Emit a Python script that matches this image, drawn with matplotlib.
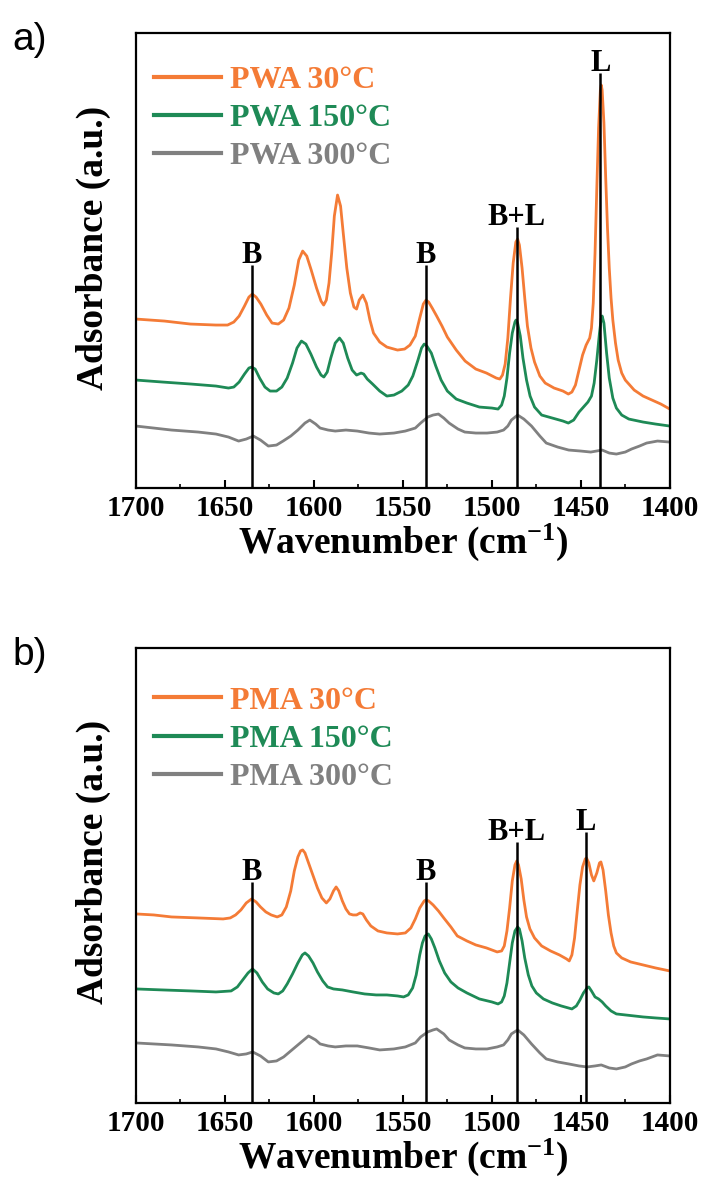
import matplotlib
matplotlib.use("Agg")
import matplotlib.pyplot as plt
from matplotlib.ticker import MultipleLocator

plt.rcParams['font.family'] = ['Liberation Serif', 'DejaVu Serif']
plt.rcParams['font.weight'] = 'bold'
plt.rcParams['mathtext.fontset'] = 'custom'
plt.rcParams['mathtext.rm'] = 'Liberation Serif:bold'
plt.rcParams['mathtext.bf'] = 'Liberation Serif:bold'
plt.rcParams['mathtext.default'] = 'rm'

# ---- panel a: PWA (absorbance in arbitrary units) ----
wn_pwa_30 = [1700, 1684, 1669.4, 1655, 1648.5, 1645, 1642, 1639, 1636.5, 1634.6, 1632.5, 1629.8,
             1626.5, 1623.5, 1620, 1617, 1614, 1611, 1608.5, 1606.3, 1604, 1601.5, 1598.5, 1596,
             1594.5, 1593, 1591.5, 1590, 1588.5, 1586.7, 1585, 1583.5, 1581.5, 1579.5, 1577.5, 1576,
             1574.5, 1572.5, 1570.5, 1568.5, 1566.5, 1563, 1559, 1553, 1549, 1546, 1543, 1540.5,
             1538.5, 1537, 1535.5, 1533.5, 1531, 1528, 1525, 1520, 1515, 1509, 1503, 1497.5,
             1495.5, 1494, 1492.5, 1491, 1489.5, 1488, 1486.5, 1485.5, 1484.5, 1483, 1481.5, 1480,
             1478, 1476, 1473, 1470, 1465, 1460, 1457, 1455, 1453, 1451, 1449, 1447,
             1445, 1444, 1443, 1442, 1441, 1440, 1439, 1438.5, 1438, 1437, 1436, 1435,
             1434, 1433, 1432, 1430.5, 1429, 1427, 1425, 1420, 1415, 1410, 1405, 1400]
ab_pwa_30 = [169, 167, 164, 163, 163, 166, 172, 182, 191, 194, 191, 184,
             173, 165, 164, 168, 180, 203, 228, 237, 232, 218, 200, 187,
             183, 188, 205, 235, 272, 293, 282, 255, 220, 195, 181, 179,
             188, 193, 185, 168, 155, 146, 141, 138, 139, 143, 152, 170,
             184, 188, 186, 180, 172, 162, 151, 138, 127, 119, 115, 110,
             109, 113, 124, 150, 190, 225, 246, 249, 243, 220, 190, 162,
             140, 126, 112, 105, 100, 97, 94, 96, 103, 118, 133, 143,
             150, 160, 185, 235, 300, 360, 398, 403, 398, 365, 310, 260,
             220, 190, 168, 145, 128, 115, 108, 98, 92, 88, 84, 79]

wn_pwa_150 = [1700, 1685, 1669, 1655, 1648, 1645, 1642, 1639, 1636.5, 1635, 1633, 1630.5,
              1627.5, 1624.6, 1621, 1618, 1615, 1612, 1609.5, 1607, 1604.5, 1601.7, 1598.5, 1596,
              1594.4, 1592.5, 1590.5, 1588, 1585.6, 1583.5, 1581, 1578.5, 1576, 1573.5, 1572, 1570,
              1567, 1563, 1559, 1555, 1550.6, 1547, 1544.4, 1541.5, 1539.5, 1538, 1536.5, 1534,
              1531.5, 1528.5, 1525, 1520, 1514, 1507, 1500, 1496.5, 1494.5, 1493, 1491.5, 1490,
              1488.5, 1487, 1486.4, 1485.5, 1484, 1482.5, 1480.5, 1478.5, 1476, 1472, 1466, 1460,
              1457, 1454, 1451, 1448, 1446, 1444, 1442.5, 1441, 1439.5, 1438.5, 1438, 1437,
              1435.5, 1434, 1432, 1430, 1427, 1423, 1415, 1408, 1400]
ab_pwa_150 = [108, 106, 104, 102, 100, 101, 106, 114, 120, 121, 119, 110,
              101, 97, 97, 101, 110, 125, 140, 147, 144, 134, 121, 113,
              111, 116, 130, 145, 150, 145, 130, 118, 113, 115, 114, 109,
              104, 97, 92, 93, 97, 103, 112, 128, 140, 144, 142, 135,
              122, 108, 97, 89, 85, 81, 80, 79, 83, 92, 110, 135,
              155, 166, 168, 165, 152, 130, 108, 92, 81, 73, 70, 67,
              65, 68, 76, 82, 86, 92, 105, 128, 155, 170, 172, 165,
              135, 110, 90, 80, 73, 69, 66, 64, 62]

wn_pwa_300 = [1700, 1680, 1665, 1655, 1648, 1642.3, 1638, 1634, 1630, 1625.6, 1621, 1617.3,
              1613, 1609, 1605, 1602.3, 1599, 1596.5, 1592, 1588, 1582, 1575.6, 1569, 1563,
              1555, 1548.6, 1543, 1540, 1536, 1533, 1530, 1527, 1524, 1519, 1515.2, 1509,
              1502.7, 1497, 1493.4, 1491, 1489, 1485.5, 1482, 1477.7, 1473, 1469.4, 1463, 1456.8,
              1450, 1444.4, 1438, 1434, 1430, 1425, 1421.5, 1417, 1413, 1406.9, 1400]
ab_pwa_300 = [62, 58, 56, 54, 51, 47, 49, 52, 48, 42, 43, 47,
              52, 58, 65, 68, 64, 60, 58, 57, 58, 57, 55, 54,
              55, 57, 60, 65, 71, 73, 74, 70, 65, 59, 56, 55,
              55, 56, 58, 62, 68, 73, 69, 62, 52, 45, 41, 38,
              37, 36, 38, 35, 34, 36, 39, 42, 45, 47, 46]

# ---- panel b: PMA ----
wn_pma_30 = [1700, 1690, 1680, 1665, 1651, 1647, 1644, 1641, 1638, 1635, 1632.5, 1630,
             1627, 1624, 1620.6, 1618, 1615.5, 1613, 1611, 1609, 1607.5, 1606.3, 1605, 1603,
             1600.6, 1598, 1595.5, 1593, 1591, 1589, 1587.5, 1586, 1584, 1582, 1580, 1578,
             1576, 1574, 1572.5, 1570.5, 1568, 1564, 1559, 1553, 1548.6, 1545.5, 1543, 1540.5,
             1538, 1537, 1535.5, 1533, 1530, 1527, 1523, 1519.4, 1514, 1509, 1503, 1497,
             1494.5, 1493, 1491.5, 1490, 1488.5, 1487, 1486, 1485, 1483.5, 1482, 1480.5, 1478.6,
             1476, 1472, 1467, 1462, 1458, 1456.5, 1455, 1453.5, 1452, 1450.5, 1449, 1447.5,
             1446.8, 1445.5, 1444, 1442.7, 1441, 1439.5, 1438.7, 1437.5, 1436, 1434.5, 1433, 1431.5,
             1430, 1427, 1422, 1415, 1408, 1400]
ab_pma_30 = [189, 188, 186, 185, 184, 185, 188, 193, 200, 204, 201, 196,
             191, 188, 186, 188, 196, 212, 232, 246, 252, 253, 250, 240,
             228, 215, 205, 200, 204, 212, 216, 212, 202, 194, 189, 188,
             188, 190, 189, 183, 177, 172, 170, 169, 170, 175, 184, 195,
             202, 203, 202, 198, 192, 185, 176, 167, 162, 158, 155, 151,
             152, 157, 172, 195, 222, 238, 242, 238, 224, 203, 186, 174,
             165, 157, 152, 148, 144, 142, 148, 165, 192, 218, 236, 244,
             245, 240, 228, 222, 230, 240, 241, 233, 212, 188, 170, 157,
             150, 145, 141, 138, 135, 132]

wn_pma_150 = [1700, 1685, 1669, 1655, 1646.5, 1643, 1640, 1637, 1634.5, 1632, 1629, 1626,
              1622.5, 1620, 1617.5, 1615, 1612, 1609, 1606.5, 1605, 1603, 1600.5, 1598, 1595,
              1592.3, 1589, 1584, 1578, 1571.5, 1565, 1559, 1553, 1549.6, 1547, 1544.5, 1542.5,
              1540.5, 1539, 1537.5, 1535.7, 1534, 1532, 1529.5, 1526.5, 1523, 1519, 1514, 1507,
              1500, 1496.5, 1494.5, 1493, 1491.5, 1490, 1488.5, 1487, 1485.5, 1484.5, 1483, 1481.5,
              1479.5, 1477.5, 1475, 1471, 1466, 1461, 1457, 1455, 1452.5, 1450.5, 1448.5, 1446.5,
              1445.5, 1444, 1442, 1440, 1438, 1436, 1433, 1430, 1425, 1415, 1408, 1400]
ab_pma_150 = [114, 113, 112, 111, 112, 116, 123, 130, 134, 130, 121, 114,
              110, 109, 112, 119, 129, 140, 148, 150, 147, 140, 131, 122,
              116, 114, 113, 111, 109, 108, 108, 107, 106, 108, 115, 128,
              148, 160, 167, 169, 164, 155, 142, 130, 121, 115, 110, 104,
              101, 99, 101, 107, 120, 140, 160, 172, 176, 174, 162, 145,
              128, 117, 110, 104, 100, 97, 95, 94, 97, 103, 110, 115,
              116, 112, 106, 104, 101, 97, 92, 89, 88, 86, 85, 84]

wn_pma_300 = [1700, 1680, 1665, 1655, 1648, 1642.3, 1638, 1634.4, 1630, 1625.6, 1621, 1617,
              1613, 1609, 1605, 1603, 1599, 1596.5, 1592, 1588, 1582, 1575.6, 1569, 1563,
              1555, 1548.6, 1543, 1540, 1536, 1533, 1531, 1527, 1524, 1519, 1515.2, 1509,
              1502.7, 1497, 1493.4, 1491, 1489, 1485.5, 1482, 1477.7, 1473, 1469.4, 1463, 1456.8,
              1451, 1446.4, 1442, 1438.5, 1434, 1430, 1425, 1421.5, 1417, 1413, 1406.9, 1400]
ab_pma_300 = [60, 58, 56, 54, 51, 48, 49, 51, 47, 41, 42, 46,
              52, 58, 64, 67, 63, 59, 57, 56, 57, 57, 55, 53,
              54, 56, 60, 66, 71, 73, 74, 69, 63, 58, 55, 54,
              54, 56, 58, 63, 69, 73, 68, 59, 50, 44, 41, 39,
              37, 36, 37, 38, 35, 34, 36, 39, 42, 44, 48, 47]

# marker lines: position, label, top height
peaks_a = [1635, 1537, 1486, 1439]
tops_a = [223, 223, 261, 415]
peaks_b = [1635, 1537, 1486, 1447]
tops_b = [221, 221, 261, 271]
peak_labels = ['B', 'B', 'B+L', 'L']

orange = '#F47B36'
green = '#1E8A56'
gray = '#808080'

fig = plt.figure(figsize=(7.08, 11.8), dpi=100)
ax_a = fig.add_axes([0.192, 0.5864, 0.754, 0.3856])
ax_b = fig.add_axes([0.192, 0.0653, 0.754, 0.3856])

panels = [
    (ax_a, 'PWA', [(wn_pwa_30, ab_pwa_30), (wn_pwa_150, ab_pwa_150), (wn_pwa_300, ab_pwa_300)],
     peaks_a, tops_a, 'a)', 0.527, 0.929),
    (ax_b, 'PMA', [(wn_pma_30, ab_pma_30), (wn_pma_150, ab_pma_150), (wn_pma_300, ab_pma_300)],
     peaks_b, tops_b, 'b)', 0.53, 0.916),
]

for ax, name, curves, peaks, tops, tag, ylab_y, leg_y in panels:
    for (x, y), col, temp in zip(curves, [orange, green, gray], ['30', '150', '300']):
        ax.plot(x, y, color=col, lw=2.0, label=f'{name} {temp}°C')

    for p, top, lab in zip(peaks, tops, peak_labels):
        ax.vlines(p, 0, top, color='black', lw=1.8, zorder=3)
        ax.text(p, top + 2, lab, ha='center', va='baseline', fontsize=22, fontweight='bold')

    ax.set_xlim(1700, 1400)
    ax.set_ylim(0, 455)
    ax.xaxis.set_major_locator(MultipleLocator(50))
    ax.xaxis.set_minor_locator(MultipleLocator(25))
    ax.tick_params(axis='x', which='major', direction='in', length=6, width=1.5,
                   labelsize=21, pad=5)
    ax.tick_params(axis='x', which='minor', direction='in', length=3, width=1.2)
    ax.set_yticks([])
    for sp in ax.spines.values():
        sp.set_linewidth(1.6)
    for t in ax.get_xticklabels():
        t.set_fontweight('bold')

    ax.set_xlabel(r'Wavenumber (cm$^{-1}$)', fontsize=27, fontweight='bold', labelpad=0)
    ax.set_ylabel('Adsorbance (a.u.)', fontsize=27, fontweight='bold')
    ax.yaxis.set_label_coords(-0.047, ylab_y)

    leg = ax.legend(loc='upper left', bbox_to_anchor=(0.033, leg_y), frameon=False,
                    handlelength=2.1, handletextpad=0.3, labelspacing=0.28,
                    borderpad=0, borderaxespad=0,
                    prop={'family': 'Liberation Serif', 'weight': 'bold', 'size': 23})
    for line, text in zip(leg.get_lines(), leg.get_texts()):
        line.set_linewidth(3)
        text.set_color(line.get_color())

    ax.text(-0.232, 0.985, tag, transform=ax.transAxes, fontsize=28,
            family='Liberation Sans', fontweight='normal', va='center', ha='left')

fig.savefig('out.png', dpi=100)
